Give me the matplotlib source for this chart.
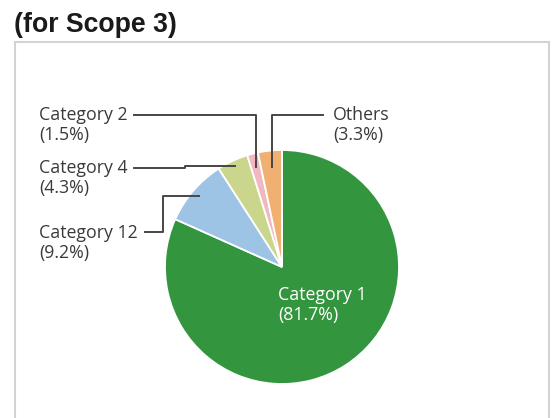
import numpy as np
import matplotlib.pyplot as plt
from matplotlib.patches import Rectangle

# data
categories = ['Category 1', 'Category 12', 'Category 4', 'Category 2', 'Others']
shares = [81.7, 9.2, 4.3, 1.5, 3.3]
colors = ['#33963f', '#9dc4e4', '#c9d68b', '#f2b8c0', '#efb072']

W, H = 552, 418
fig = plt.figure(figsize=(W / 100, H / 100), dpi=100)
ax = fig.add_axes([0, 0, 1, 1])

def Y(y):
    # pixel row (from top) -> data y
    return H - y

cx, cy, R = 282, Y(267), 117
wedges, _ = ax.pie(shares, colors=colors, startangle=90, counterclock=False,
                   center=(cx, cy), radius=R,
                   wedgeprops=dict(edgecolor='white', linewidth=1.3))
ax.set_xlim(0, W)
ax.set_ylim(0, H)
ax.axis('off')

# frame and title
ax.add_patch(Rectangle((15, Y(440)), 534, 440 - 42, fill=False,
                       edgecolor='#d3d3d3', linewidth=1.5))
ax.text(14, Y(25), '(for Scope 3)', fontsize=19.2, fontweight='bold',
        family='Liberation Sans', color='#1a1a1a', va='center', ha='left')

def anchor(i, frac):
    w = wedges[i]
    a = np.deg2rad((w.theta1 + w.theta2) / 2)
    return cx + frac * R * np.cos(a), cy + frac * R * np.sin(a)

lc = '#4a4545'
lw = 1.4
fs = 12.8
tf = 'Open Sans'

def label(x, y, txt, col='#3a3a3a'):
    ax.text(x, Y(y), txt, fontsize=fs, family=tf, color=col,
            va='center', ha='left', linespacing=1.2)

# Category 2
ex, ey = anchor(3, 0.88)
ax.plot([134, ex, ex], [Y(115), Y(115), ey], color=lc, lw=lw)
label(39, 125, f'{categories[3]}\n({shares[3]}%)')

# Others
ex, ey = anchor(4, 0.86)
ax.plot([323, ex, ex], [Y(115), Y(115), ey], color=lc, lw=lw)
label(333, 125, f'{categories[4]}\n({shares[4]}%)')

# Category 4
ex, ey = anchor(2, 0.95)
ax.plot([134, 185, 185, ex], [Y(168), Y(168), ey, ey], color=lc, lw=lw)
label(39, 178, f'{categories[2]}\n({shares[2]}%)')

# Category 12
ex, ey = anchor(1, 0.93)
ax.plot([145, 163, 163, ex], [Y(232), Y(232), ey, ey], color=lc, lw=lw)
label(39, 243, f'{categories[1]}\n({shares[1]}%)')

# Category 1 (inside)
label(278, 305, f'{categories[0]}\n({shares[0]}%)', col='white')

fig.savefig('out.png', dpi=100)
